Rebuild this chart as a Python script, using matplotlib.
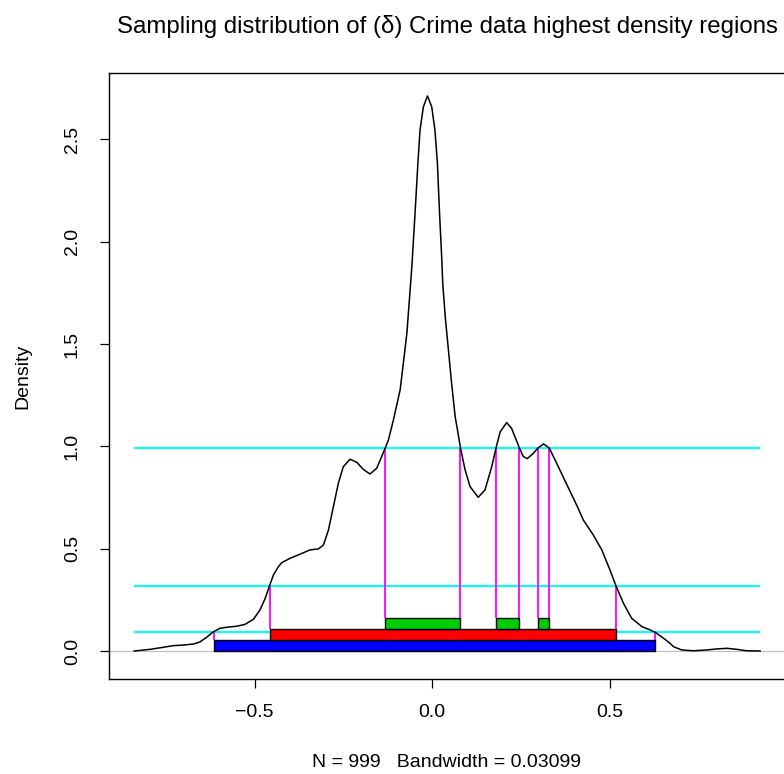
import matplotlib
matplotlib.use("Agg")
import matplotlib.pyplot as plt
from matplotlib.patches import Rectangle

plt.rcParams['font.family'] = ['Liberation Sans', 'DejaVu Sans']

# Kernel density estimate
dens_x = [-0.839, -0.794, -0.757, -0.729, -0.700, -0.672, -0.654, -0.635, -0.616, -0.597,
          -0.578, -0.550, -0.527, -0.503, -0.485, -0.470, -0.458, -0.447, -0.433, -0.423,
          -0.400, -0.372, -0.344, -0.320, -0.306, -0.292, -0.278, -0.264, -0.250, -0.231,
          -0.212, -0.194, -0.175, -0.156, -0.142, -0.132, -0.123, -0.109, -0.090, -0.081,
          -0.071, -0.064, -0.057, -0.048, -0.040, -0.034, -0.0245, -0.013, -0.001, 0.008,
          0.015, 0.021, 0.027, 0.030, 0.037, 0.046, 0.055, 0.060, 0.065, 0.070,
          0.080, 0.093, 0.107, 0.130, 0.149, 0.168, 0.180, 0.192, 0.210, 0.224,
          0.246, 0.257, 0.268, 0.285, 0.298, 0.314, 0.330, 0.351, 0.379, 0.408,
          0.426, 0.454, 0.478, 0.501, 0.518, 0.539, 0.562, 0.591, 0.614, 0.628,
          0.652, 0.670, 0.680, 0.703, 0.736, 0.774, 0.802, 0.830, 0.858, 0.886, 0.924]
dens_y = [0.000, 0.008, 0.018, 0.026, 0.029, 0.034, 0.044, 0.067, 0.094, 0.111,
          0.116, 0.121, 0.130, 0.155, 0.200, 0.257, 0.318, 0.371, 0.412, 0.432,
          0.453, 0.473, 0.494, 0.499, 0.518, 0.591, 0.705, 0.820, 0.901, 0.937,
          0.922, 0.888, 0.865, 0.893, 0.950, 0.992, 1.031, 1.129, 1.276, 1.406,
          1.553, 1.716, 1.878, 2.139, 2.384, 2.546, 2.660, 2.713, 2.660, 2.546,
          2.384, 2.139, 1.927, 1.797, 1.634, 1.471, 1.308, 1.227, 1.145, 1.096,
          0.992, 0.885, 0.803, 0.751, 0.787, 0.901, 0.992, 1.072, 1.116, 1.088,
          0.992, 0.950, 0.940, 0.966, 0.992, 1.012, 0.992, 0.917, 0.815, 0.710,
          0.640, 0.567, 0.494, 0.396, 0.318, 0.233, 0.160, 0.119, 0.103, 0.092,
          0.062, 0.038, 0.021, 0.005, 0.001, 0.005, 0.010, 0.013, 0.008, 0.001, 0.000]

# Highest density regions (99%, 95%, 50%)
hdr_names = ["99%", "95%", "50%"]
hdr_levels = [0.094, 0.318, 0.992]
hdr_lo = [[-0.613], [-0.456], [-0.132, 0.180, 0.298]]
hdr_hi = [[0.627], [0.518], [0.080, 0.246, 0.330]]
hdr_colors = ["#0000FF", "#FF0000", "#00CD00"]
box_h = 0.054

xticks = [-0.5, 0.0, 0.5]
xtick_labels = ["\u22120.5", "0.0", "0.5"]
yticks = [0.0, 0.5, 1.0, 1.5, 2.0, 2.5]
ytick_labels = ["0.0", "0.5", "1.0", "1.5", "2.0", "2.5"]

fig = plt.figure(figsize=(7.84, 7.74), dpi=100)
ax = fig.add_axes([109 / 784, 1 - 679 / 774, 676 / 784, (679 - 73) / 774])
ax.set_xlim(-0.910, 0.994)
ax.set_ylim(-0.137, 2.825)

ax.axhline(0, color="#BEBEBE", lw=0.8, zorder=1)
ax.plot(dens_x, dens_y, color="black", lw=1.1, zorder=3, solid_joinstyle="round")
ax.hlines(hdr_levels, dens_x[0], dens_x[-1], color="#00FFFF", lw=1.5, zorder=2)

for i, (lv, los, his, col) in enumerate(zip(hdr_levels, hdr_lo, hdr_hi, hdr_colors)):
    bottom = i * box_h
    top = bottom + box_h
    for lo, hi in zip(los, his):
        ax.vlines([lo, hi], top, lv, color="#FF00FF", lw=1.3, zorder=2)
        ax.add_patch(Rectangle((lo, bottom), hi - lo, box_h, facecolor=col,
                               edgecolor="black", lw=1.0, zorder=4))

ax.set_xticks(xticks)
ax.set_xticklabels(xtick_labels)
ax.set_yticks(yticks)
ax.set_yticklabels(ytick_labels, rotation=90, va="center")
ax.tick_params(direction="out", length=6.5, width=0.9, labelsize=14)
ax.tick_params(axis="x", pad=11.5)
ax.tick_params(axis="y", pad=13.8)
for s in ax.spines.values():
    s.set_linewidth(1.0)
    s.set_color("black")

ax.set_xlabel("N = 999   Bandwidth = 0.03099", fontsize=14, labelpad=23.5)
ax.set_ylabel("Density", fontsize=14, labelpad=23.5)
fig.text(447 / 784, 1 - 26 / 774, "Sampling distribution of (\u03b4) Crime data highest density regions",
         ha="center", va="center", fontsize=17.3)

fig.savefig("out.png", dpi=100)
